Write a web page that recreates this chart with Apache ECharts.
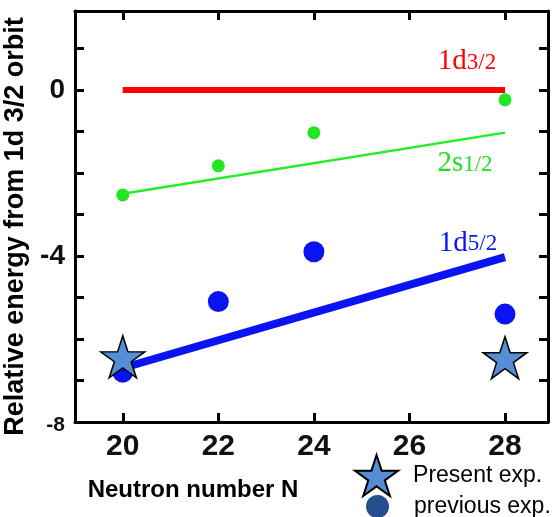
<!DOCTYPE html>
<html>
<head>
<meta charset="utf-8">
<script src="https://cdn.jsdelivr.net/npm/echarts@6/dist/echarts.min.js"></script>
<style>html,body{margin:0;padding:0;background:#fff}#c{width:555px;height:517px}</style>
</head>
<body>
<div id="c"></div>
<script>
// ---- data ----
const xTicks = [20, 22, 24, 26, 28];
const yLabelValues = [-8, -4, 0];
const line1d32 = [[20, 0], [28, 0]];
const line2s12 = [[20, -2.5], [28, -1.03]];
const line1d52 = [[20, -6.7], [28, -4.03]];
const prev2s12 = [[20, -2.53], [22, -1.83], [24, -1.03], [28, -0.24]];
const prev1d52 = [[20, -6.8], [22, -5.1], [24, -3.9], [28, -5.4]];
const present = [[20, -6.43], [28, -6.45]];
const orbitLabels = ['1d|3/2', '2s|1/2', '1d|5/2'];

const STAR = 'path://M100,0 L122.45,69.1 L195.1,69.1 L136.3,111.8 L158.8,180.9 L100,138.2 L41.2,180.9 L63.7,111.8 L4.9,69.1 L77.55,69.1 Z';
const SANS = 'Liberation Sans';
const SERIF = 'Liberation Serif';

function rich(lbl) {
  const p = lbl.split('|');
  return '{a|' + p[0] + '}{b|' + p[1] + '}';
}
function richStyle(color) {
  return {
    a: { fontFamily: SERIF, fontSize: 29, color: color, verticalAlign: 'middle', lineHeight: 30 },
    b: { fontFamily: SERIF, fontSize: 23, color: color, verticalAlign: 'middle', lineHeight: 30, padding: [2, 0, 0, 0] }
  };
}
function endLabel(pt, text, color, offset) {
  return {
    type: 'scatter', silent: true, symbolSize: 1,
    itemStyle: { color: 'rgba(0,0,0,0)', opacity: 1 },
    data: [pt],
    label: {
      show: true, position: 'inside', align: 'center', verticalAlign: 'middle',
      offset: offset, formatter: rich(text), rich: richStyle(color)
    },
    z: 10
  };
}

const axisLine = { show: true, onZero: false, lineStyle: { color: '#000', width: 3 } };
const tick = { show: true, inside: true, length: 9, lineStyle: { color: '#000', width: 3 } };

const chart = echarts.init(document.getElementById('c'), null, { renderer: 'canvas' });
chart.setOption({
  animation: false,
  backgroundColor: '#fff',
  grid: { left: 75, right: 7, top: 11, bottom: 95, containLabel: false, outerBoundsMode: 'none' },
  legend: [
    {
      left: 349, top: 449, orient: 'vertical', selectedMode: false,
      itemWidth: 63, itemHeight: 41, symbolKeepAspect: true,
      textStyle: { fontFamily: SANS, fontSize: 23, color: '#000' },
      data: [{ name: 'Present exp.', icon: STAR }]
    },
    {
      left: 361, top: 490, orient: 'vertical', selectedMode: false,
      itemWidth: 63, itemHeight: 23, symbolKeepAspect: true,
      textStyle: { fontFamily: SANS, fontSize: 23, color: '#000' },
      data: [{ name: 'previous exp.', icon: 'circle', itemStyle: { color: '#244f8a', opacity: 1 } }]
    }
  ],
  xAxis: [
    {
      type: 'value', min: 19, max: 28.9, position: 'bottom',
      name: 'Neutron number N', nameLocation: 'middle', nameGap: 56,
      nameTextStyle: { fontFamily: SANS, fontWeight: 'bold', fontSize: 24, color: '#000', padding: [0, 237, 0, 0] },
      axisLine: axisLine,
      axisTick: Object.assign({}, tick, { customValues: xTicks }),
      axisLabel: { customValues: xTicks, fontFamily: SANS, fontWeight: 'bold', fontSize: 30, color: '#111', margin: 10 },
      splitLine: { show: false }
    },
    {
      type: 'value', min: 19, max: 28.9, position: 'top',
      axisLine: axisLine,
      axisTick: Object.assign({}, tick, { customValues: xTicks }),
      axisLabel: { show: false },
      splitLine: { show: false }
    }
  ],
  yAxis: [
    {
      type: 'value', min: -8, max: 1.9, interval: 1, position: 'left',
      name: 'Relative energy from 1d 3/2 orbit', nameLocation: 'middle', nameGap: 36,
      nameTextStyle: { fontFamily: SANS, fontWeight: 'bold', fontSize: 27, color: '#000', padding: [0, 20, 0, 0] },
      axisLine: axisLine,
      axisTick: tick,
      axisLabel: {
        fontFamily: SANS, fontWeight: 'bold', fontSize: 28, color: '#111', margin: 10,
        formatter: function (v) {
          if (v === -8) return '{s|-8}';
          return yLabelValues.indexOf(v) >= 0 ? String(v) : '';
        },
        rich: { s: { fontFamily: SANS, fontWeight: 'bold', fontSize: 21, color: '#111', padding: [6, 0, 0, 0] } }
      },
      splitLine: { show: false }
    },
    {
      type: 'value', min: -8, max: 1.9, interval: 1, position: 'right',
      axisLine: axisLine,
      axisTick: tick,
      axisLabel: { show: false },
      splitLine: { show: false }
    }
  ],
  series: [
    {
      name: '1d3/2', type: 'line', data: line1d32, symbol: 'none',
      lineStyle: { color: '#ff0000', width: 6, cap: 'butt' }
    },
    {
      name: '2s1/2', type: 'line', data: line2s12, symbol: 'none',
      lineStyle: { color: '#22ee22', width: 2.5 }
    },
    {
      name: '2s1/2 exp.', type: 'scatter', data: prev2s12, symbol: 'circle', symbolSize: 13,
      itemStyle: { color: '#22e622', opacity: 1 }
    },
    {
      name: 'previous exp.', type: 'scatter', data: prev1d52, symbol: 'circle', symbolSize: 21,
      itemStyle: { color: '#0a14f2', opacity: 1 }
    },
    {
      name: '1d5/2', type: 'line', data: line1d52, symbol: 'none',
      lineStyle: { color: '#0a14f2', width: 8 }
    },
    {
      name: 'Present exp.', type: 'scatter', data: present, symbol: STAR, symbolSize: [44, 42],
      itemStyle: { color: '#558ed5', borderColor: '#000', borderWidth: 1.5, opacity: 1 }, z: 5
    },
    endLabel(line1d32[1], orbitLabels[0], '#ff0000', [-38, -28]),
    endLabel(line2s12[1], orbitLabels[1], '#22dd22', [-40, 31]),
    endLabel(line1d52[1], orbitLabels[2], '#0a14f2', [-37, -14])
  ]
});
</script>
</body>
</html>
